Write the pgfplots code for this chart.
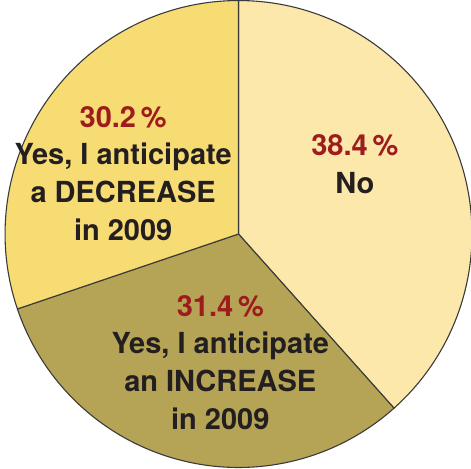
\documentclass[border=0pt]{standalone}
\usepackage{pgfplots}
\pgfplotsset{compat=1.18}
\usepackage{fontspec}
\setmainfont{TeX Gyre Heros}

\definecolor{cNo}{HTML}{FBE8AA}
\definecolor{cDec}{HTML}{F7DC74}
\definecolor{cInc}{HTML}{B5A455}
\definecolor{pct}{HTML}{9E1B1E}
\definecolor{ink}{HTML}{231F20}
\definecolor{edge}{HTML}{3A3A3A}

% shares in percent, clockwise from 12 o'clock
\def\vNo{38.4}
\def\vInc{31.4}
\def\vDec{30.2}
\pgfmathsetmacro\aA{90}
\pgfmathsetmacro\aB{90-3.6*\vNo}
\pgfmathsetmacro\aC{\aB-3.6*\vInc}
\pgfmathsetmacro\aD{\aC-3.6*\vDec}

\begin{document}
\begin{tikzpicture}
\begin{axis}[
    x=3cm, y=3cm,
    xmin=-1.0216, xmax=0.9957,
    ymin=-1.0043, ymax=1.0346,
    hide axis,
    clip=true,
    ]
\fill[cNo, draw=edge, line width=0.4pt] (axis cs:0,0) -- (axis cs:{cos(\aA)},{sin(\aA)})
    arc[start angle=\aA, end angle=\aB, radius=3cm] -- cycle;
\fill[cInc, draw=edge, line width=0.4pt] (axis cs:0,0) -- (axis cs:{cos(\aB)},{sin(\aB)})
    arc[start angle=\aB, end angle=\aC, radius=3cm] -- cycle;
\fill[cDec, draw=edge, line width=0.4pt] (axis cs:0,0) -- (axis cs:{cos(\aC)},{sin(\aC)})
    arc[start angle=\aC, end angle=\aD, radius=3cm] -- cycle;

\node[align=center, font=\fontsize{10.6}{13.8}\selectfont\bfseries, text=ink]
    at (axis cs:0.498,0.299) {\textcolor{pct}{\vNo\,\%}\\No};
\node[align=center, font=\fontsize{10.6}{13.8}\selectfont\bfseries, text=ink]
    at (axis cs:-0.078,-0.55) {\textcolor{pct}{\vInc\,\%}\\Yes, I anticipate\\an INCREASE\\in 2009};
\node[align=center, font=\fontsize{10.6}{13.8}\selectfont\bfseries, text=ink]
    at (axis cs:-0.494,0.26) {\textcolor{pct}{\vDec\,\%}\\Yes, I anticipate\\a DECREASE\\in 2009};
\end{axis}
\end{tikzpicture}
\end{document}
